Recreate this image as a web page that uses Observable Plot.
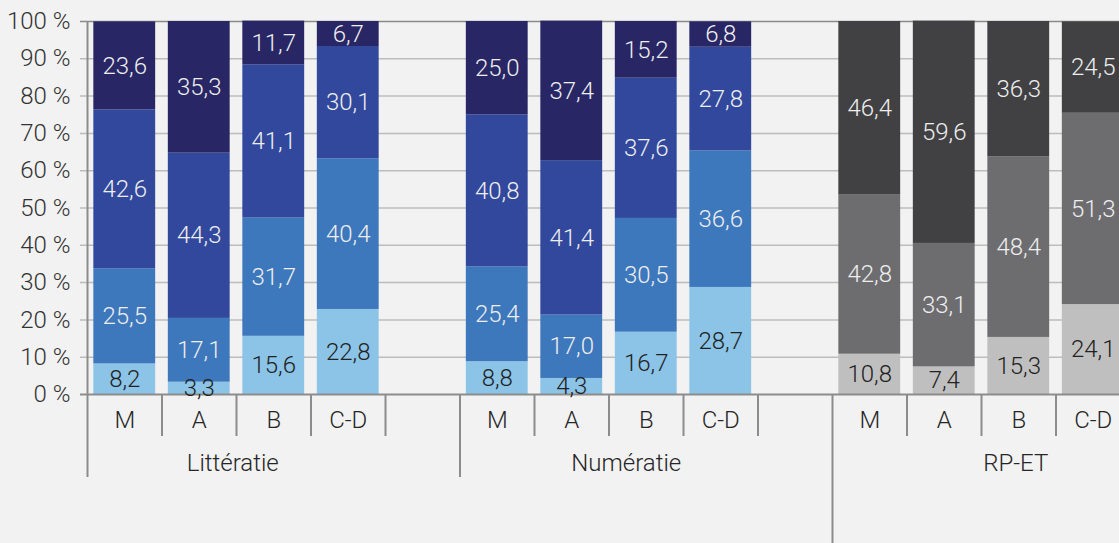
<!DOCTYPE html>
<html><head><meta charset="utf-8">
<script src="https://cdn.jsdelivr.net/npm/d3@7"></script>
<script src="https://cdn.jsdelivr.net/npm/@observablehq/plot@0.6"></script>
<style>
html,body{margin:0;padding:0;background:#f2f2f2;overflow:hidden;}
#chart{width:1119px;height:543px;overflow:hidden;}
#chart svg{overflow:hidden;}
</style></head><body><div id="chart"></div>
<script>
// ---- data ----
const groups = ["Littératie", "Numératie", "RP-ET"];
const categories = ["M", "A", "B", "C-D"];
const yTicks = [0, 10, 20, 30, 40, 50, 60, 70, 80, 90, 100];

// Littératie, levels bottom -> top
const litL1 = [8.2, 3.3, 15.6, 22.8];
const litL2 = [25.5, 17.1, 31.7, 40.4];
const litL3 = [42.6, 44.3, 41.1, 30.1];
const litL4 = [23.6, 35.3, 11.7, 6.7];
// Numératie
const numL1 = [8.8, 4.3, 16.7, 28.7];
const numL2 = [25.4, 17.0, 30.5, 36.6];
const numL3 = [40.8, 41.4, 37.6, 27.8];
const numL4 = [25.0, 37.4, 15.2, 6.8];
// RP-ET
const rpL1 = [10.8, 7.4, 15.3, 24.1];
const rpL2 = [42.8, 33.1, 48.4, 51.3];
const rpL3 = [46.4, 59.6, 36.3, 24.5];

// ---- styles ----
const bluePalette = ["#8bc4e7", "#3d77bc", "#31489c", "#282664"];
const greyPalette = ["#bfbfbf", "#6d6d70", "#414143"];
const palettes = [bluePalette, bluePalette, greyPalette];
const step = 74.5;          // slot width in px
const pxPerUnit = 373 / 100; // y px per percent
const below = px => -px / pxPerUnit;
const groupLabelDx = [-41, -20, -3];
const FONT = 24;

// ---- table ----
const seriesByGroup = [[litL1, litL2, litL3, litL4], [numL1, numL2, numL3, numL4], [rpL1, rpL2, rpL3]];
const slotKeys = [];
groups.forEach(g => { categories.forEach(c => slotKeys.push(g + "|" + c)); slotKeys.push(g + "|gap"); });

const rows = [];
seriesByGroup.forEach((levels, gi) => levels.forEach((vals, li) => vals.forEach((v, ci) => rows.push({
  key: groups[gi] + "|" + categories[ci], group: groups[gi], cat: categories[ci],
  level: li, value: v, fill: palettes[gi][li]
}))));
const catRows = [];
groups.forEach(g => categories.forEach(c => catRows.push({key: g + "|" + c, cat: c})));
const boundaries = slotKeys.map((k, i) => {
  const start = i % 5 === 0, gi = Math.floor(i / 5);
  return {key: k, y1: i === 0 ? 100 : 0, y2: start ? (gi === 2 ? below(150) : below(83)) : below(42)};
});
const fmt = v => v.toFixed(1).replace(".", ",");

const plot = Plot.plot({
  width: 1119, height: 543,
  marginLeft: 87, marginRight: 0, marginTop: 21, marginBottom: 149,
  x: {type: "band", domain: slotKeys, range: [87, 87 + 15 * step], paddingInner: 0.17, paddingOuter: 0.085, align: 0.5, round: false, axis: null},
  y: {domain: [0, 100], range: [394, 21], axis: null},
  style: {background: "transparent", fontFamily: "Roboto, 'Liberation Sans', sans-serif", overflow: "hidden"},
  marks: [
    Plot.ruleY(yTicks.filter(t => t > 0 && t < 100), {stroke: "#bcbcbc", strokeWidth: 1.5, insetLeft: -7}),
    Plot.ruleY([100], {stroke: "#8a8a8a", strokeWidth: 1.5, insetLeft: -7}),
    Plot.barY(rows, {x: "key", y: "value", z: "level", fill: "fill", order: null}),
    Plot.ruleY([0], {stroke: "#8c8c8c", strokeWidth: 2, insetLeft: -7}),
    Plot.ruleX(boundaries, {x: "key", dx: -step / 2, y1: "y1", y2: "y2", stroke: "#8c8c8c", strokeWidth: 2}),
    Plot.text(rows, Plot.stackY({x: "key", y: "value", z: "level", order: null, text: d => fmt(d.value),
      fill: d => d.level === 0 ? "#222222" : "#eeeeee", fontSize: FONT, fontWeight: 300})),
    Plot.text(yTicks, {y: d => d, text: d => d + " %", frameAnchor: "left", dx: -17, textAnchor: "end",
      fill: "#333333", fontSize: FONT, fontWeight: 300}),
    Plot.text(catRows, {x: "key", y: below(26), text: "cat", fill: "#262626", fontSize: FONT, fontWeight: 300}),
    ...groups.map((g, gi) => Plot.text([g], {x: () => g + "|B", y: below(69), text: d => d, dx: groupLabelDx[gi],
      fill: "#262626", fontSize: FONT, fontWeight: 300}))
  ]
});
document.getElementById("chart").appendChild(plot);
</script></body></html>
